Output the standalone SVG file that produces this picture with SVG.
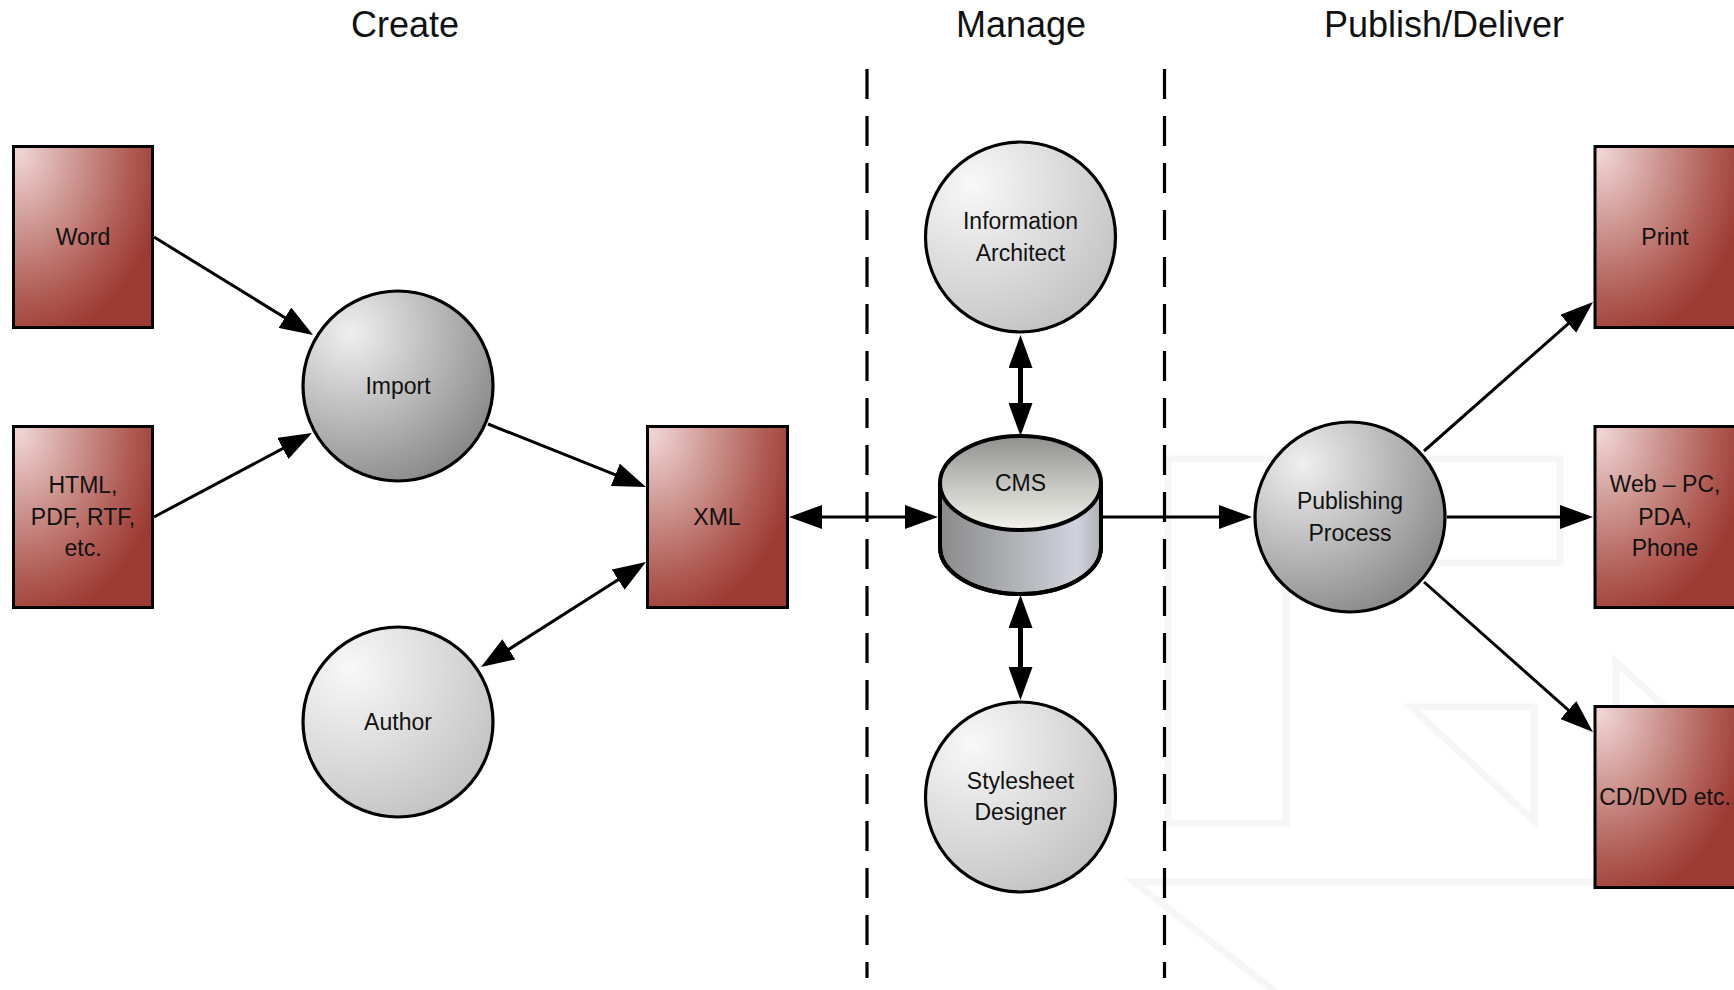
<svg xmlns="http://www.w3.org/2000/svg" width="1734" height="990" viewBox="0 0 1734 990">
<defs>
<radialGradient id="gBox" cx="0.04" cy="0.04" r="1.05" fx="0.04" fy="0.04">
<stop offset="0" stop-color="#f0d5d5"/>
<stop offset="0.4" stop-color="#cd958f"/>
<stop offset="0.75" stop-color="#b05d56"/>
<stop offset="1" stop-color="#9c3b34"/>
</radialGradient>
<radialGradient id="gDark" cx="0.25" cy="0.22" r="0.85" fx="0.25" fy="0.22">
<stop offset="0" stop-color="#efefef"/>
<stop offset="1" stop-color="#8b8b8b"/>
</radialGradient>
<radialGradient id="gLight" cx="0.25" cy="0.22" r="0.85" fx="0.25" fy="0.22">
<stop offset="0" stop-color="#f8f8f8"/>
<stop offset="1" stop-color="#c4c4c4"/>
</radialGradient>
<linearGradient id="gTop" x1="0" y1="0" x2="0" y2="1">
<stop offset="0" stop-color="#8f8f8d"/>
<stop offset="0.55" stop-color="#c9c9c5"/>
<stop offset="1" stop-color="#f3f3ec"/>
</linearGradient>
<linearGradient id="gBody" x1="0" y1="0" x2="1" y2="0">
<stop offset="0" stop-color="#8a8a8a"/>
<stop offset="0.5" stop-color="#b3b5b9"/>
<stop offset="0.85" stop-color="#cfd3dc"/>
<stop offset="1" stop-color="#aeb0b6"/>
</linearGradient>
<marker id="ah" viewBox="0 0 33 24" markerWidth="33" markerHeight="24" refX="13" refY="12" orient="auto-start-reverse" markerUnits="userSpaceOnUse">
<path d="M0,0 L33,12 L0,24 Z" fill="#000"/>
</marker>
<style>
.box{fill:url(#gBox);stroke:#000;stroke-width:3}
.cd{fill:url(#gDark);stroke:#000;stroke-width:3.2}
.cl{fill:url(#gLight);stroke:#000;stroke-width:3.2}
.lbl{font-family:"Liberation Sans",Arial,sans-serif;font-size:23px;fill:#111;text-anchor:middle}
.ttl{font-family:"Liberation Sans",Arial,sans-serif;font-size:36px;fill:#111;text-anchor:middle}
.con{stroke:#000;stroke-width:3;fill:none}
.thick{stroke-width:5}
.dash{stroke:#000;stroke-width:3.2;stroke-dasharray:30 17;fill:none}
.wm{stroke:#f6f6f6;stroke-width:7;fill:none;stroke-linejoin:miter}
</style>
</defs>
<rect width="1734" height="990" fill="#fff"/>

<g id="watermark">
<path class="wm" d="M1168,459 H1560 V563 H1286 V823 H1168 Z"/>
<path class="wm" d="M1411,707 H1534 V821 Z"/>
<path class="wm" d="M1664,706 L1616,662 V706"/>
<path class="wm" d="M1600,882 H1134 L1280,995"/>
</g>

<g id="titles">
<text class="ttl" x="405" y="37">Create</text>
<text class="ttl" x="1021" y="37">Manage</text>
<text class="ttl" x="1444" y="37">Publish/Deliver</text>
</g>

<g id="separators">
<line class="dash" x1="867" y1="69" x2="867" y2="978"/>
<line class="dash" x1="1164.5" y1="69" x2="1164.5" y2="978"/>
</g>

<g id="connectors">
<line class="con" x1="154" y1="237" x2="296" y2="324.5" marker-end="url(#ah)"/>
<line class="con" x1="154" y1="517" x2="294.3" y2="442.4" marker-end="url(#ah)"/>
<line class="con" x1="488" y1="424" x2="627.4" y2="479.6" marker-end="url(#ah)"/>
<line class="con" x1="497.9" y1="656.3" x2="629.1" y2="572.7" marker-start="url(#ah)" marker-end="url(#ah)"/>
<line class="con" x1="809" y1="517" x2="918" y2="517" marker-start="url(#ah)" marker-end="url(#ah)"/>
<line class="con" x1="1102" y1="517" x2="1232" y2="517" marker-end="url(#ah)"/>
<line class="con thick" x1="1020.5" y1="355" x2="1020.5" y2="416" marker-start="url(#ah)" marker-end="url(#ah)"/>
<line class="con thick" x1="1020.5" y1="615" x2="1020.5" y2="680" marker-start="url(#ah)" marker-end="url(#ah)"/>
<line class="con" x1="1424" y1="451" x2="1578" y2="315.2" marker-end="url(#ah)"/>
<line class="con" x1="1447" y1="517" x2="1573" y2="517" marker-end="url(#ah)"/>
<line class="con" x1="1424" y1="582" x2="1578" y2="718.7" marker-end="url(#ah)"/>
</g>

<g id="word">
<rect class="box" x="13.5" y="146.5" width="139" height="181"/>
<text class="lbl" x="83" y="245">Word</text>
</g>
<g id="html">
<rect class="box" x="13.5" y="426.5" width="139" height="181"/>
<text class="lbl" x="83" y="493">HTML,</text>
<text class="lbl" x="83" y="525">PDF, RTF,</text>
<text class="lbl" x="83" y="556">etc.</text>
</g>
<g id="import">
<circle class="cd" cx="398" cy="386" r="95"/>
<text class="lbl" x="398" y="394">Import</text>
</g>
<g id="author">
<circle class="cl" cx="398" cy="722" r="95"/>
<text class="lbl" x="398" y="730">Author</text>
</g>
<g id="xml">
<rect class="box" x="647.5" y="426.5" width="140" height="181"/>
<text class="lbl" x="717" y="525">XML</text>
</g>
<g id="info-architect">
<circle class="cl" cx="1020.5" cy="237" r="95"/>
<text class="lbl" x="1020.5" y="229">Information</text>
<text class="lbl" x="1020.5" y="260.5">Architect</text>
</g>
<g id="cms">
<path d="M940,483 V547 A80.5,47 0 0 0 1101,547 V483 Z" fill="url(#gBody)" stroke="#000" stroke-width="4" stroke-linejoin="round"/>
<ellipse cx="1020.5" cy="483" rx="80.5" ry="47" fill="url(#gTop)" stroke="#000" stroke-width="4"/>
<path d="M940,483 V547 A80.5,47 0 0 0 1101,547 V483" fill="none" stroke="#000" stroke-width="4"/>
<text class="lbl" x="1020.5" y="491">CMS</text>
</g>
<g id="stylesheet-designer">
<circle class="cl" cx="1020.5" cy="797" r="95"/>
<text class="lbl" x="1020.5" y="789">Stylesheet</text>
<text class="lbl" x="1020.5" y="820">Designer</text>
</g>
<g id="publishing-process">
<circle class="cd" cx="1350" cy="517" r="95"/>
<text class="lbl" x="1350" y="509">Publishing</text>
<text class="lbl" x="1350" y="541">Process</text>
</g>
<g id="print">
<rect class="box" x="1595" y="146.5" width="142" height="181"/>
<text class="lbl" x="1665" y="245">Print</text>
</g>
<g id="web">
<rect class="box" x="1595" y="426.5" width="142" height="181"/>
<text class="lbl" x="1665" y="492">Web – PC,</text>
<text class="lbl" x="1665" y="524.5">PDA,</text>
<text class="lbl" x="1665" y="555.5">Phone</text>
</g>
<g id="cd-dvd">
<rect class="box" x="1595" y="706.5" width="142" height="181"/>
<text class="lbl" x="1665" y="805">CD/DVD etc.</text>
</g>
</svg>
